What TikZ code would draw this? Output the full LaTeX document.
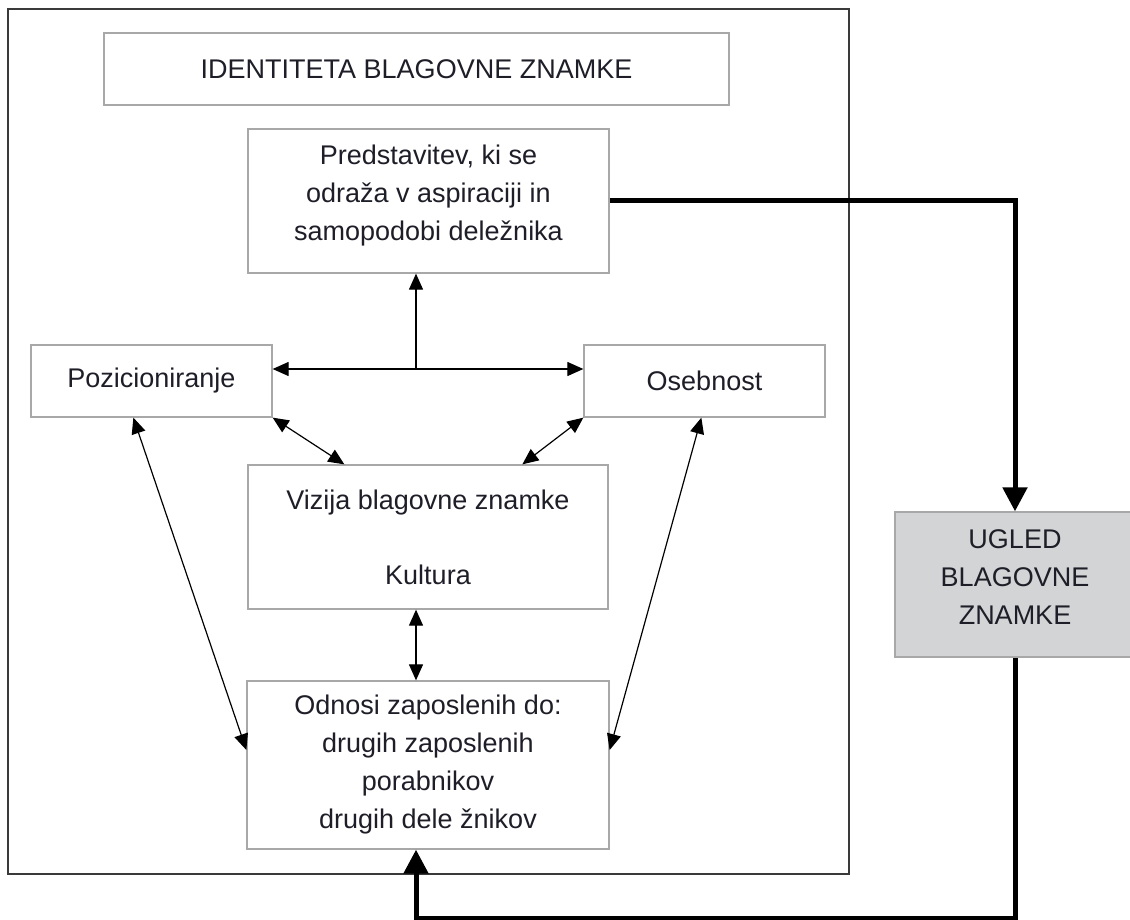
\documentclass[tikz,border=0pt]{standalone}
\usepackage{fontspec}
\setmainfont{Liberation Sans}
\usetikzlibrary{arrows.meta,calc}
\definecolor{boxgray}{HTML}{A8A8A8}
\definecolor{framegray}{HTML}{3A3A3A}
\definecolor{ugfill}{HTML}{D3D4D6}
\definecolor{txt}{HTML}{1E1E28}
\begin{document}
\begin{tikzpicture}[x=1pt,y=-1pt,
  box/.style={draw=boxgray,line width=1.3pt,fill=white,align=center,inner sep=0pt,
    text=txt,font=\fontsize{27}{38}\selectfont},
  link/.style={line width=1.2pt,>={Triangle[length=16pt,width=14pt]}},
  heavy/.style={line width=5pt,line join=miter,>={Triangle[length=24pt,width=24pt]}}]
\useasboundingbox (0,0) rectangle (1130,920);
\node[draw=framegray,line width=1.6pt,minimum width=841pt,minimum height=865pt,inner sep=0pt] (frame) at (428.5,441.5) {};
\node[box,minimum width=625pt,minimum height=72pt] (title) at (416.5,69) {IDENTITETA BLAGOVNE ZNAMKE};
\node[box,minimum width=361pt,minimum height=144pt,text depth=16pt] (pred) at (428.5,201) {Predstavitev, ki se\\odraža v aspiraciji in\\samopodobi deležnika};
\node[box,minimum width=241pt,minimum height=72pt] (poz) at (151.5,381) {Pozicioniranje};
\node[box,minimum width=241pt,minimum height=72pt] (oseb) at (704.5,381) {Osebnost};
\node[box,minimum width=360pt,minimum height=144pt] (viz) at (428,537) {Vizija blagovne znamke\\[37pt]Kultura};
\node[box,minimum width=362pt,minimum height=168pt] (odn) at (428,765) {Odnosi zaposlenih do:\\drugih zaposlenih\\porabnikov\\drugih dele žnikov};
\node[box,fill=ugfill,draw=boxgray,minimum width=240pt,minimum height=145pt,text depth=15pt] (ugled) at (1015,584.5) {UGLED\\BLAGOVNE\\ZNAMKE};
\coordinate (hy) at (416,369);
\coordinate (by) at (0,918);
\draw[link,<->] (poz.east |- hy) -- (oseb.west |- hy);
\draw[link,->] (hy) -- (hy |- pred.south);
\draw[link,<->] (hy |- viz.south) -- (hy |- odn.north);
\draw[link,<->] (poz.south east) -- ($(viz.north west)+(97,0)$);
\draw[link,<->] (oseb.south west) -- ($(viz.north west)+(275,0)$);
\draw[link,<->] ($(poz.south west)+(103,0)$) -- ($(odn.west)+(0,-15)$);
\draw[link,<->] ($(oseb.south west)+(118,0)$) -- ($(odn.east)+(0,-15)$);
\draw[heavy,->] (pred.east) -| (ugled.north);
\draw[heavy,->] (ugled.south) -- (ugled.south |- by) -- (hy |- by) -- (hy |- odn.south);
\end{tikzpicture}
\end{document}
